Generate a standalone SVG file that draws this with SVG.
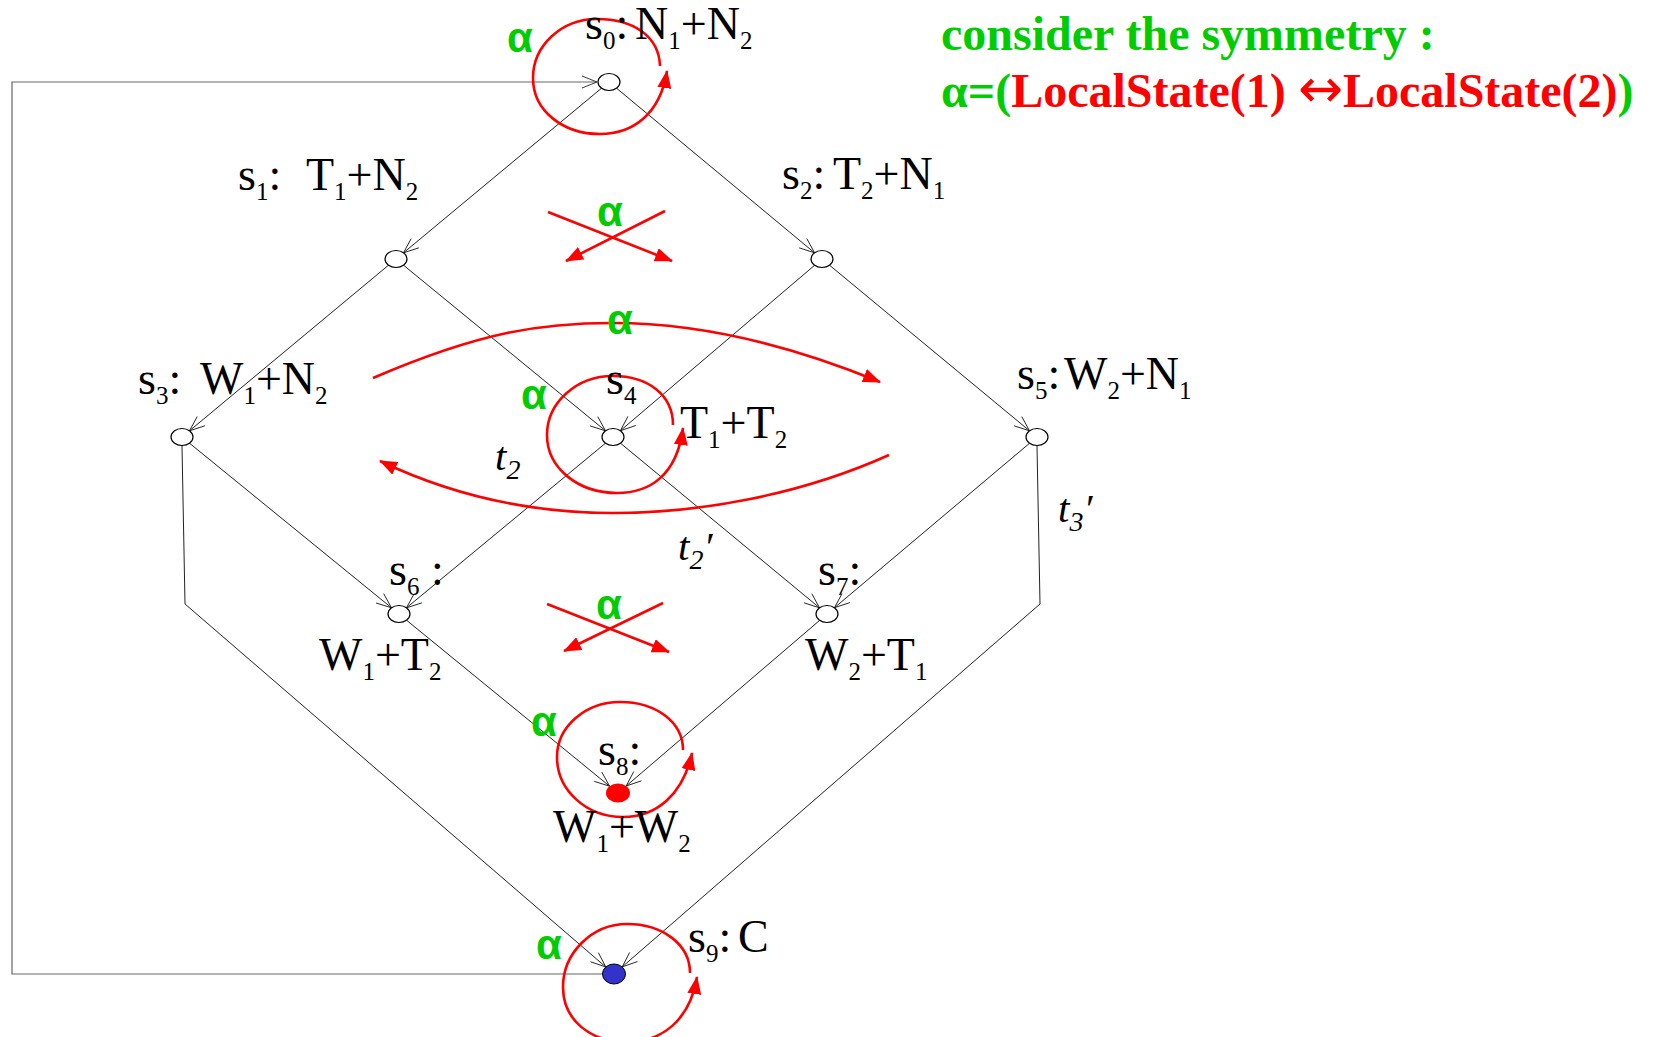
<svg xmlns="http://www.w3.org/2000/svg" width="1653" height="1037" viewBox="0 0 1653 1037">
<style>
.edge{fill:none;stroke:#222;stroke-width:1;marker-end:url(#va)}
.loop{fill:none;stroke:#666;stroke-width:1.2}
.red{fill:none;stroke:#ff0000;stroke-width:2.6;marker-end:url(#ra)}
.node{fill:#fff;stroke:#000;stroke-width:1.2}
.lbl{font-family:"Liberation Serif","Times New Roman",serif;font-size:46px;fill:#000}
.sub{font-size:25px}
.it{font-family:"Liberation Serif","Times New Roman",serif;font-style:italic;font-size:41px;fill:#000}
.isub{font-size:28px}
.al{font-family:"Liberation Sans",Arial,sans-serif;font-weight:bold;font-size:42px;fill:#00cc00}
.hd{font-family:"Liberation Serif","Times New Roman",serif;font-weight:bold;font-size:48px}
.g{fill:#00cc00}
.r{fill:#ff0000}
.arr{font-family:"DejaVu Sans",sans-serif;font-weight:normal;font-size:54px}
</style>
<defs>
<marker id="va" markerUnits="userSpaceOnUse" markerWidth="17" markerHeight="14" viewBox="0 0 17 14" refX="16" refY="7" orient="auto">
<path d="M1,1 L16,7 L1,13" fill="none" stroke="#222" stroke-width="0.9"/>
</marker>
<marker id="ra" markerUnits="userSpaceOnUse" markerWidth="18" markerHeight="14" viewBox="0 0 18 14" refX="17" refY="7" orient="auto">
<path d="M0,0 L18,7 L0,14 z" fill="#ff0000"/>
</marker>
</defs>

<g id="connectors">
<path class="edge" d="M601.5,88.2 L403.5,252.8"/>
<path class="edge" d="M616.5,88.2 L814.5,252.8"/>
<path class="edge" d="M388.5,265.2 L189.5,430.8"/>
<path class="edge" d="M403.5,265.2 L605.5,430.8"/>
<path class="edge" d="M814.6,265.3 L620.4,430.7"/>
<path class="edge" d="M829.5,265.2 L1029.5,430.8"/>
<path class="edge" d="M189.5,443.2 L391.5,607.8"/>
<path class="edge" d="M605.5,443.2 L406.5,607.8"/>
<path class="edge" d="M620.5,443.2 L819.5,607.8"/>
<path class="edge" d="M1029.5,443.3 L834.5,607.7"/>
<path class="edge" d="M406.5,620.2 L609.6,786.2"/>
<path class="edge" d="M819.5,620.5 L626.2,786"/>
<path class="edge" d="M182,446 L185,604 L605.8,967"/>
<path class="edge" d="M1037,446 L1040,604 L622.2,966.9"/>
<path class="loop" d="M602.5,974 L12,974 L12,82 L597,82" marker-end="url(#va)"/>
</g>

<g id="symmetry">
<path class="red" d="M660,66 C659,36 633,19 597,19 C561,19 533,46 533,78 C533,111 563,134 600,134 C632,134 660,115 667,71"/>
<path class="red" d="M673,425 C673,395 648,376 613,376 C576,376 547,403 547,435 C547,468 578,493 617,493 C650,493 677,475 683,428"/>
<path class="red" d="M683,750 C683,722 656,702 620,702 C585,702 557,727 557,757 C557,790 586,817 623,817 C656,817 683,795 692,753"/>
<path class="red" d="M690,973 C690,944 662,924 627,924 C592,924 563,953 563,987 C563,1020 590,1042 627,1042 C662,1042 690,1020 697,977"/>
<path class="red" d="M548,212 L672,261"/>
<path class="red" d="M665,211 L566,261"/>
<path class="red" d="M547,604 L669,652"/>
<path class="red" d="M663,603 L564,651"/>
<path class="red" d="M373,378 C480,332 540,323 613,323 C700,323 790,345 880,382"/>
<path class="red" d="M889,455 C800,495 700,513 613,513 C520,513 445,492 380,461"/>
<text class="al" x="507" y="52">α</text>
<text class="al" x="597" y="226">α</text>
<text class="al" x="607" y="334">α</text>
<text class="al" x="521" y="409">α</text>
<text class="al" x="596" y="619">α</text>
<text class="al" x="531" y="736">α</text>
<text class="al" x="536" y="959">α</text>
</g>

<g id="s0">
<ellipse class="node" cx="609" cy="82" rx="11" ry="8.5"/>
<text class="lbl" x="585" y="39">s<tspan class="sub" dy="10">0</tspan><tspan dy="-10">:</tspan><tspan x="635">N</tspan><tspan class="sub" dy="10">1</tspan><tspan dy="-10">+N</tspan><tspan class="sub" dy="10">2</tspan></text>
</g>
<g id="s1">
<ellipse class="node" cx="396" cy="259" rx="11" ry="8.5"/>
<text class="lbl" x="238" y="190">s<tspan class="sub" dy="10">1</tspan><tspan dy="-10">:</tspan><tspan x="306">T</tspan><tspan class="sub" dy="10">1</tspan><tspan dy="-10">+N</tspan><tspan class="sub" dy="10">2</tspan></text>
</g>
<g id="s2">
<ellipse class="node" cx="822" cy="259" rx="11" ry="8.5"/>
<text class="lbl" x="782" y="189">s<tspan class="sub" dy="10">2</tspan><tspan dy="-10">:</tspan><tspan x="833">T</tspan><tspan class="sub" dy="10">2</tspan><tspan dy="-10">+N</tspan><tspan class="sub" dy="10">1</tspan></text>
</g>
<g id="s3">
<ellipse class="node" cx="182" cy="437" rx="11" ry="8.5"/>
<text class="lbl" x="138" y="394">s<tspan class="sub" dy="10">3</tspan><tspan dy="-10">:</tspan><tspan x="200">W</tspan><tspan class="sub" dy="10">1</tspan><tspan dy="-10">+N</tspan><tspan class="sub" dy="10">2</tspan></text>
</g>
<g id="s4">
<ellipse class="node" cx="613" cy="437" rx="11" ry="8.5"/>
<text class="lbl" x="606" y="394">s<tspan class="sub" dy="10">4</tspan></text>
<text class="lbl" x="680" y="438">T<tspan class="sub" dy="10">1</tspan><tspan dy="-10">+T</tspan><tspan class="sub" dy="10">2</tspan></text>
</g>
<g id="s5">
<ellipse class="node" cx="1037" cy="437" rx="11" ry="8.5"/>
<text class="lbl" x="1017" y="389">s<tspan class="sub" dy="10">5</tspan><tspan dy="-10">:</tspan><tspan x="1064">W</tspan><tspan class="sub" dy="10">2</tspan><tspan dy="-10">+N</tspan><tspan class="sub" dy="10">1</tspan></text>
</g>
<g id="s6">
<ellipse class="node" cx="399" cy="614" rx="11" ry="8.5"/>
<text class="lbl" x="389" y="585">s<tspan class="sub" dy="10">6</tspan><tspan dy="-10"> :</tspan></text>
<text class="lbl" x="319" y="670">W<tspan class="sub" dy="10">1</tspan><tspan dy="-10">+T</tspan><tspan class="sub" dy="10">2</tspan></text>
</g>
<g id="s7">
<ellipse class="node" cx="827" cy="614" rx="11" ry="8.5"/>
<text class="lbl" x="818" y="585">s<tspan class="sub" dy="10">7</tspan><tspan dy="-10">:</tspan></text>
<text class="lbl" x="805" y="670">W<tspan class="sub" dy="10">2</tspan><tspan dy="-10">+T</tspan><tspan class="sub" dy="10">1</tspan></text>
</g>
<g id="s8">
<ellipse cx="618" cy="793" rx="12" ry="9.5" fill="#ff0000"/>
<text class="lbl" x="598" y="765">s<tspan class="sub" dy="10">8</tspan><tspan dy="-10">:</tspan></text>
<text class="lbl" x="553" y="842">W<tspan class="sub" dy="10">1</tspan><tspan dy="-10">+W</tspan><tspan class="sub" dy="10">2</tspan></text>
</g>
<g id="s9">
<ellipse cx="614" cy="974" rx="11.5" ry="10" fill="#3333cc" stroke="#000" stroke-width="1"/>
<text class="lbl" x="688" y="952">s<tspan class="sub" dy="10">9</tspan><tspan dy="-10">:</tspan><tspan x="738">C</tspan></text>
</g>

<g id="transition-labels">
<text class="it" x="495" y="470">t<tspan class="isub" dy="9">2</tspan></text>
<text class="it" x="678" y="560">t<tspan class="isub" dy="9">2</tspan><tspan dy="-9">′</tspan></text>
<text class="it" x="1058" y="522">t<tspan class="isub" dy="9">3</tspan><tspan dy="-9">′</tspan></text>
</g>

<g id="header">
<text class="hd g" x="941" y="50">consider the symmetry :</text>
<text class="hd" x="941" y="107"><tspan class="g">α=(</tspan><tspan class="r">LocalState(1) </tspan><tspan class="r arr">↔</tspan><tspan class="r">LocalState(2)</tspan><tspan class="g">)</tspan></text>
</g>
</svg>
